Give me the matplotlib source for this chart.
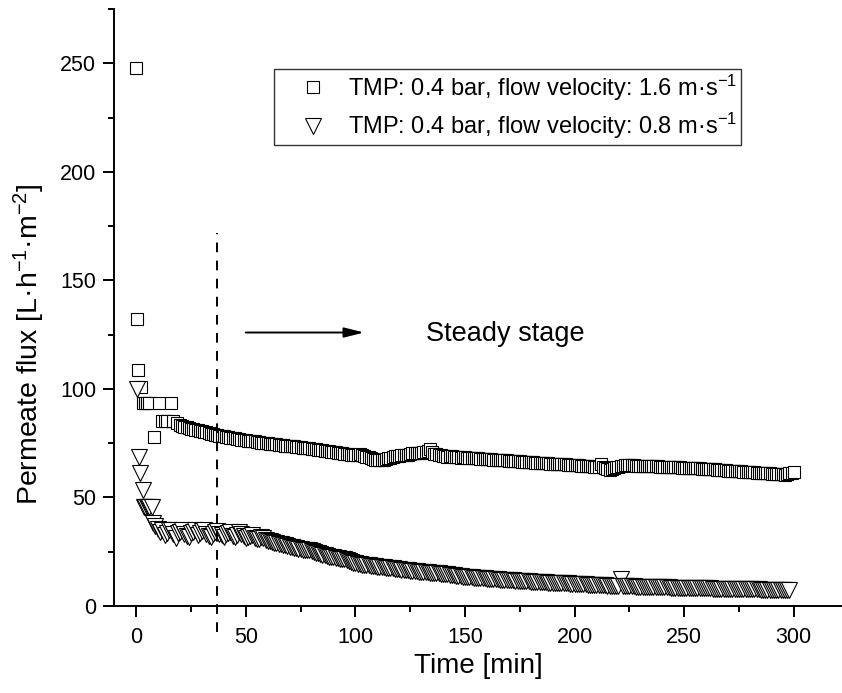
import matplotlib
matplotlib.use('Agg')
import matplotlib.pyplot as plt
from matplotlib.ticker import MultipleLocator

plt.rcParams['font.family'] = ['Liberation Sans', 'DejaVu Sans']
plt.rcParams['mathtext.fontset'] = 'custom'
plt.rcParams['mathtext.rm'] = 'Liberation Sans'
plt.rcParams['mathtext.it'] = 'Liberation Sans:italic'

# 1.6 m/s series: start-up points, then one reading per minute
fast_t_start = [0, 0.4, 1, 2, 3, 4, 5, 6, 8, 10.5, 12, 13, 14, 16, 17, 18.5]
fast_v_start = [248, 132, 108.6, 101, 93.3, 93.3, 93.3, 93.3, 77.7, 93.3,
                85.3, 85.3, 85.3, 93.3, 85.3, 84.2]
fast_t = list(range(20, 301))
fast_v = [83.3, 83.0, 82.6, 82.4, 82.0, 81.7, 81.6, 81.2, 81.0, 80.8,
          80.5, 80.2, 80.0, 79.7, 79.4, 79.3, 79.0, 78.6, 78.4, 78.3,
          78.1, 77.9, 77.8, 77.5, 77.3, 77.2, 77.0, 76.8, 76.6, 76.5,
          76.3, 76.2, 76.0, 75.9, 75.8, 75.6, 75.5, 75.3, 75.2, 75.1,
          75.0, 74.8, 74.7, 74.6, 74.5, 74.3, 74.2, 74.0, 73.9, 73.9,
          73.8, 73.6, 73.5, 73.4, 73.3, 73.1, 73.0, 72.9, 72.8, 72.6,
          72.5, 72.4, 72.2, 72.0, 71.9, 71.8, 71.6, 71.4, 71.2, 71.1,
          71.0, 70.8, 70.6, 70.4, 70.3, 70.1, 70.0, 69.9, 69.8, 69.7,
          69.6, 69.8, 70.2, 69.5, 69.0, 68.8, 68.6, 68.2, 67.8, 67.5,
          67.4, 67.3, 67.2, 67.5, 67.8, 68.0, 68.3, 68.6, 68.9, 69.0,
          69.2, 69.4, 69.5, 69.6, 69.8, 70.0, 70.3, 70.4, 70.5, 70.5,
          70.6, 70.8, 71.0, 71.4, 72.2, 70.8, 70.2, 69.9, 69.6, 69.4,
          69.2, 69.0, 68.8, 68.9, 69.0, 68.8, 68.6, 68.5, 68.4, 68.5,
          68.5, 68.3, 68.2, 68.2, 68.3, 68.1, 68.0, 67.9, 67.9, 67.8,
          67.7, 67.6, 67.6, 67.5, 67.5, 67.4, 67.3, 67.2, 67.2, 67.1,
          67.0, 66.9, 66.8, 66.8, 66.9, 66.7, 66.5, 66.4, 66.4, 66.3,
          66.3, 66.2, 66.1, 66.0, 66.0, 65.9, 65.8, 65.7, 65.7, 65.6,
          65.6, 65.5, 65.4, 65.3, 65.3, 65.2, 65.2, 65.1, 65.0, 64.9,
          64.9, 64.8, 64.8, 64.7, 64.6, 64.5, 64.5, 64.4, 64.3, 64.2,
          64.2, 64.0, 65.4, 64.2, 63.6, 63.0, 62.7, 63.0, 63.5, 63.9,
          64.2, 64.4, 64.6, 64.8, 64.9, 64.9, 64.8, 64.8, 64.7, 64.6,
          64.6, 64.5, 64.5, 64.4, 64.4, 64.4, 64.4, 64.3, 64.3, 64.2,
          64.2, 64.1, 64.1, 64.0, 64.0, 64.0, 64.0, 63.9, 63.9, 63.8,
          63.8, 63.7, 63.7, 63.6, 63.6, 63.5, 63.5, 63.4, 63.3, 63.2,
          63.1, 63.1, 63.0, 62.9, 62.9, 62.8, 62.8, 62.7, 62.6, 62.5,
          62.4, 62.4, 62.3, 62.2, 62.1, 62.0, 62.0, 61.9, 61.8, 61.8,
          61.7, 61.6, 61.6, 61.5, 61.5, 61.4, 61.3, 61.2, 61.2, 61.1,
          61.0, 60.9, 60.9, 60.8, 60.8, 60.6, 60.5, 60.8, 61.2, 61.5,
          61.8]

# 0.8 m/s series
slow_t_start = [0.3, 1.1, 1.9, 2.9, 3.6, 4.2, 4.8, 5.4, 6.0, 7.1, 7.9, 8.5]
slow_v_start = [100.2, 68.7, 61.1, 53.4, 45.7, 45.7, 45.7, 45.7, 45.7, 45.7,
                38.1, 37.0]
slow_t = list(range(10, 299))
slow_v = [35.5, 34.0, 34.8, 32.5, 33.5, 35.2, 35.0, 33.0, 31.5, 33.6,
          34.2, 35.0, 33.0, 32.1, 31.8, 33.5, 34.0, 34.8, 32.6, 33.7,
          34.4, 35.0, 33.2, 32.4, 31.9, 33.0, 34.1, 34.5, 33.0, 32.8,
          32.0, 33.2, 33.8, 34.0, 32.4, 31.7, 32.8, 33.9, 33.4, 32.2,
          31.2, 32.0, 32.4, 32.9, 31.4, 30.9, 30.8, 31.6, 31.2, 30.4,
          30.0, 29.8, 29.4, 29.2, 28.9, 28.7, 28.5, 28.2, 27.9, 27.6,
          27.3, 27.1, 26.9, 26.6, 26.4, 26.2, 26.0, 25.9, 25.7, 25.6,
          25.4, 25.0, 24.6, 24.3, 24.0, 23.7, 23.4, 23.0, 22.6, 22.5,
          22.4, 22.2, 22.0, 21.8, 21.6, 21.5, 21.3, 20.8, 20.3, 19.9,
          19.6, 19.5, 19.3, 19.1, 19.0, 18.9, 18.8, 18.6, 18.5, 18.3,
          18.2, 18.1, 18.0, 17.8, 17.6, 17.5, 17.4, 17.3, 17.2, 17.0,
          16.9, 16.8, 16.7, 16.6, 16.5, 16.3, 16.2, 16.1, 16.0, 15.9,
          15.8, 15.7, 15.6, 15.5, 15.4, 15.3, 15.2, 15.1, 15.0, 14.9,
          14.9, 14.7, 14.6, 14.5, 14.4, 14.2, 14.0, 13.9, 13.8, 13.6,
          13.4, 13.4, 13.3, 13.2, 13.1, 13.0, 12.9, 12.9, 12.8, 12.7,
          12.6, 12.6, 12.5, 12.4, 12.3, 12.3, 12.2, 12.1, 12.0, 12.0,
          11.9, 11.9, 11.8, 11.7, 11.7, 11.6, 11.5, 11.5, 11.4, 11.3,
          11.2, 11.2, 11.1, 11.1, 11.0, 11.0, 10.9, 10.9, 10.8, 10.8,
          10.7, 10.7, 10.6, 10.6, 10.5, 10.5, 10.4, 10.4, 10.3, 10.3,
          10.2, 10.2, 10.1, 10.1, 10.0, 10.0, 9.9, 9.9, 9.8, 9.8,
          9.7, 9.7, 9.6, 9.6, 9.5, 9.4, 9.3, 9.2, 9.0, 9.0,
          9.0, 12.6, 9.1, 9.1, 9.0, 9.0, 9.0, 9.0, 8.9, 8.9,
          8.9, 8.9, 8.8, 8.8, 8.8, 8.8, 8.7, 8.7, 8.7, 8.7,
          8.6, 8.6, 8.6, 8.6, 8.5, 8.5, 8.5, 8.5, 8.4, 8.4,
          8.3, 8.3, 8.3, 8.3, 8.2, 8.2, 8.2, 8.2, 8.2, 8.1,
          8.1, 8.1, 8.1, 8.0, 8.0, 8.0, 8.0, 8.0, 8.0, 7.9,
          7.9, 7.9, 7.9, 7.9, 7.9, 7.8, 7.8, 7.8, 7.8, 7.8,
          7.8, 7.7, 7.7, 7.7, 7.7, 7.6, 7.6, 7.6, 7.6, 7.5,
          7.5, 7.5, 7.5, 7.4, 7.4, 7.4, 7.4, 7.4, 7.5]

labels = ['TMP: 0.4 bar, flow velocity: 1.6 m·s$^{-1}$',
          'TMP: 0.4 bar, flow velocity: 0.8 m·s$^{-1}$']

fig = plt.figure(figsize=(8.42, 6.93), dpi=100)
ax = fig.add_axes([0.1357, 0.1255, 0.8643, 0.8614])

sq = dict(marker='s', ms=8.5, mfc='white', mec='black', mew=0.8, ls='none')
tri = dict(marker='v', ms=11, mfc='white', mec='black', mew=0.8, ls='none')

ax.plot(fast_t_start + fast_t, fast_v_start + fast_v, label=labels[0], **sq)
ax.plot(slow_t_start + slow_t, slow_v_start + slow_v, label=labels[1], **tri)

# start of steady stage
ax.plot([37, 37], [-12, 172], color='black', lw=1.4, dashes=(5, 4.3),
        clip_on=False)
ax.annotate('', xy=(104, 126), xytext=(50, 126),
            arrowprops=dict(arrowstyle='-|>,head_length=0.6,head_width=0.15',
                            color='black', lw=1.4, mutation_scale=20,
                            shrinkA=0, shrinkB=0))
ax.text(132, 122, 'Steady stage', fontsize=19.5, va='baseline', ha='left')

ax.set_xlim(-10, 322)
ax.set_ylim(0, 275)
ax.xaxis.set_major_locator(MultipleLocator(50))
ax.xaxis.set_minor_locator(MultipleLocator(25))
ax.yaxis.set_major_locator(MultipleLocator(50))
ax.yaxis.set_minor_locator(MultipleLocator(25))

for side in ['top', 'right']:
    ax.spines[side].set_visible(False)
for side in ['left', 'bottom']:
    ax.spines[side].set_linewidth(1.4)
ax.tick_params(which='major', length=8, width=1.4, labelsize=15.5, pad=5)
ax.tick_params(which='minor', length=4.5, width=1.4)
ax.tick_params(axis='x', which='major', pad=7)

ax.set_xlabel('Time [min]', fontsize=20)
ax.set_ylabel('Permeate flux [L·h$^{-1}$·m$^{-2}$]', fontsize=20.5)
ax.yaxis.set_label_coords(-0.093, 0.438)

leg = ax.legend(loc='upper left', bbox_to_anchor=(274 / 842, 1 - 69 / 693),
                bbox_transform=fig.transFigure, borderaxespad=0,
                fontsize=17, frameon=True, fancybox=False, handlelength=3.0,
                handletextpad=0.0, labelspacing=0.35, borderpad=0.15)
leg.get_frame().set_edgecolor('black')
leg.get_frame().set_linewidth(1.0)

fig.savefig('out.png', dpi=100)
